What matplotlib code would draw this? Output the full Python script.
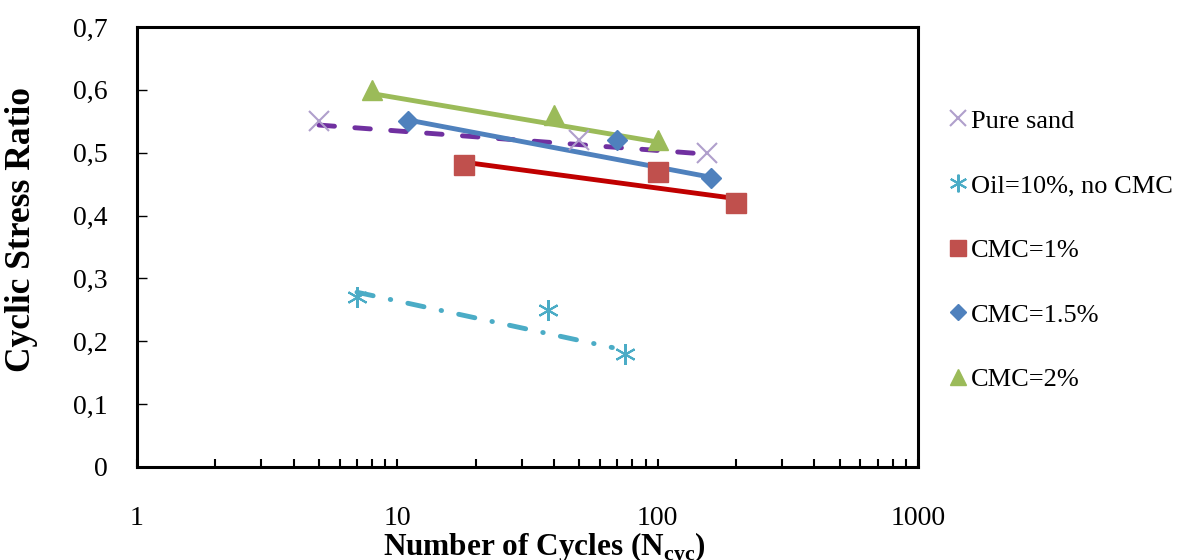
import numpy as np
import matplotlib
matplotlib.use("Agg")
import matplotlib.pyplot as plt
from matplotlib.ticker import FuncFormatter, LogLocator, NullFormatter

plt.rcParams['font.family'] = ['Liberation Serif', 'DejaVu Serif']

pure_n = [5, 50, 155]
pure_csr = [0.55, 0.52, 0.50]
oil_n = [7, 38, 75]
oil_csr = [0.27, 0.25, 0.18]
cmc1_n = [18, 100, 200]
cmc1_csr = [0.48, 0.47, 0.42]
cmc15_n = [11, 70, 160]
cmc15_csr = [0.55, 0.52, 0.46]
cmc2_n = [8, 40, 100]
cmc2_csr = [0.60, 0.56, 0.52]

# trend line ends, as drawn on the chart
pure_tr_n = [5, 140]
pure_tr_csr = [0.544, 0.499]
oil_tr_n = [7, 67]
oil_tr_csr = [0.278, 0.190]
cmc1_tr_n = [18, 200]
cmc1_tr_csr = [0.485, 0.427]
cmc15_tr_n = [11, 160]
cmc15_tr_csr = [0.552, 0.461]
cmc2_tr_n = [8, 100]
cmc2_tr_csr = [0.594, 0.517]

labels = ["Pure sand", "Oil=10%, no CMC", "CMC=1%", "CMC=1.5%", "CMC=2%"]

fig = plt.figure(figsize=(11.79, 5.6), dpi=100)
ax = fig.add_axes([0.1162, 0.1661, 0.6624, 0.7857])

series = [
    (pure_n, pure_csr, pure_tr_n, pure_tr_csr,
     dict(marker='x', color='#B09FCC', ms=14, mew=1.5, ls='none'),
     dict(color='#7030A0', ls=(0, (3.2, 4.2)), lw=3.5, dash_capstyle='round')),
    (oil_n, oil_csr, oil_tr_n, oil_tr_csr,
     dict(marker=(6, 2, 0), color='#4BACC6', ms=15, mew=1.5, ls='none'),
     dict(color='#4BACC6', ls=(0, (3.4, 3.6, 0.1, 3.6)), lw=3.5, dash_capstyle='round')),
    (cmc1_n, cmc1_csr, cmc1_tr_n, cmc1_tr_csr,
     dict(marker='s', color='#C0504D', ms=14, ls='none'),
     dict(color='#C00000', ls='-', lw=3.5, solid_capstyle='round')),
    (cmc15_n, cmc15_csr, cmc15_tr_n, cmc15_tr_csr,
     dict(marker='D', color='#4F81BD', ms=10, ls='none'),
     dict(color='#4F81BD', ls='-', lw=3.5, solid_capstyle='round')),
    (cmc2_n, cmc2_csr, cmc2_tr_n, cmc2_tr_csr,
     dict(marker='^', color='#9BBB59', ms=14, ls='none'),
     dict(color='#9BBB59', ls='-', lw=3.5, solid_capstyle='round')),
]

handles = []
for (n, csr, tn, tc, mstyle, lstyle), lab in zip(series, labels):
    h, = ax.plot(n, csr, label=lab, zorder=3, **mstyle)
    handles.append(h)
    ax.plot(tn, tc, zorder=2, **lstyle)

ax.set_xscale('log')
ax.set_xlim(1, 1000)
ax.set_ylim(0, 0.7)
ax.set_yticks(np.arange(0, 0.71, 0.1))
ax.yaxis.set_major_formatter(FuncFormatter(lambda v, p: "0" if abs(v) < 1e-9 else f"{v:.1f}".replace('.', ',')))
ax.xaxis.set_major_locator(LogLocator(base=10, numticks=10))
ax.xaxis.set_minor_locator(LogLocator(base=10, subs=np.arange(2, 10), numticks=10))
ax.xaxis.set_minor_formatter(NullFormatter())
ax.xaxis.set_major_formatter(FuncFormatter(lambda v, p: f"{v:g}"))

ax.tick_params(axis='y', direction='in', length=7, width=1, pad=21, labelsize=20, right=False)
ax.tick_params(axis='x', which='both', direction='in', length=6, width=1.5, pad=28, labelsize=20, top=False)

for s in ax.spines.values():
    s.set_linewidth(2.2)
    s.set_color('black')

ax.set_ylabel("Cyclic Stress Ratio", fontsize=25.5, fontweight='bold')
ax.yaxis.set_label_coords(-0.127, 0.54)
ax.set_xlabel("Number of Cycles (N$_{\\mathregular{cyc}}$)", fontsize=22.5, fontweight='bold')
ax.xaxis.set_label_coords(0.522, -0.145)
ax.xaxis.label.set_va('top')

leg = fig.legend(handles=handles, loc='upper left', bbox_to_anchor=(0.797, 0.824), frameon=False,
                 fontsize=19, handlelength=0.6, handletextpad=0.2, labelspacing=1.56, borderaxespad=0,
                 markerscale=0.85)

fig.savefig("out.png", dpi=100)
